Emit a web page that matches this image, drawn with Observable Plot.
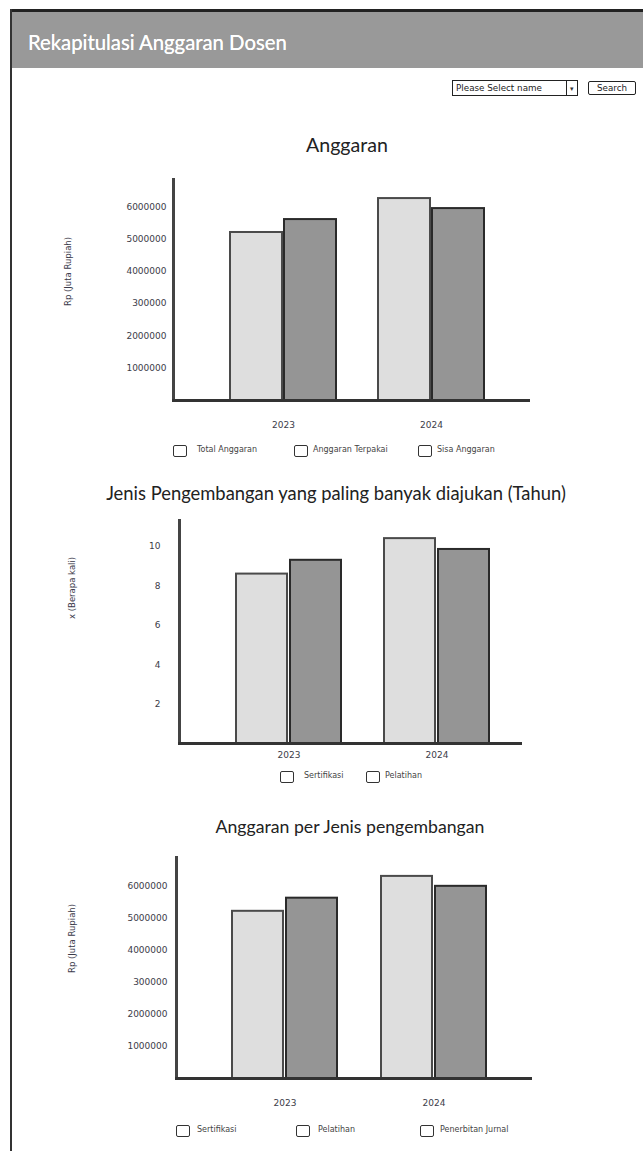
<!DOCTYPE html>
<html><head><meta charset="utf-8">
<script src="https://cdn.jsdelivr.net/npm/d3@7"></script>
<script src="https://cdn.jsdelivr.net/npm/@observablehq/plot@0.6"></script>
<style>
body{margin:0;background:#fff;}
#page{position:relative;width:643px;height:1151px;overflow:hidden;background:#fff;font-family:Lato,"Open Sans",sans-serif;}
.abs{position:absolute;white-space:nowrap;line-height:1;}
.box{position:absolute;width:12px;height:10px;border:1.6px solid #333;border-radius:2px;background:#fff;}
.leg{position:absolute;white-space:nowrap;font-family:"DejaVu Sans",sans-serif;font-size:8px;color:#444;line-height:1;}
</style></head><body><div id="page"></div>
<script>
// ---- data ----
const years = ["2023", "2024"];
const anggaranTotal = [5200000, 6250000];
const anggaranTerpakai = [5600000, 5940000];
const jenisSertifikasi = [8.6, 10.4];
const jenisPelatihan = [9.3, 9.85];
const perJenisSertifikasi = [5220000, 6310000];
const perJenisPelatihan = [5630000, 6000000];
const rupiahTicks = [1000000, 2000000, 3000000, 4000000, 5000000, 6000000];
const rupiahTickLabels = ["1000000", "2000000", "300000", "4000000", "5000000", "6000000"];
const kaliTicks = [2, 4, 6, 8, 10];
const legend1 = ["Total Anggaran", "Anggaran Terpakai", "Sisa Anggaran"];
const legend2 = ["Sertifikasi", "Pelatihan"];
const legend3 = ["Sertifikasi", "Pelatihan", "Penerbitan Jurnal"];
const titles = ["Anggaran", "Jenis Pengembangan yang paling banyak diajukan (Tahun)", "Anggaran per Jenis pengembangan"];
const yLabels = ["Rp (Juta Rupiah)", "x (Berapa kali)", "Rp (Juta Rupiah)"];

const page = document.getElementById("page");

function addDiv(cls, css, text) {
  const d = document.createElement("div");
  d.className = cls;
  Object.assign(d.style, css);
  if (text != null) d.textContent = text;
  page.appendChild(d);
  return d;
}
function fitWidth(el, w) {
  const cur = el.getBoundingClientRect().width;
  const fs = parseFloat(getComputedStyle(el).fontSize);
  el.style.fontSize = (fs * w / cur) + "px";
}
function placeCenter(el, cx, cy) {
  const r = el.getBoundingClientRect();
  el.style.left = (cx - r.width / 2) + "px";
  el.style.top = (cy - r.height / 2) + "px";
}

// ---- page frame & header ----
addDiv("abs", {left: "12px", top: "12px", width: "631px", height: "56px", background: "#999"});
addDiv("abs", {left: "10px", top: "9px", width: "633px", height: "3px", background: "#222"});
addDiv("abs", {left: "10px", top: "9px", width: "2px", height: "1142px", background: "#333"});
const head = addDiv("abs", {color: "#fff", fontSize: "22px", fontFamily: "Lato, sans-serif", textShadow: "0 0 0.4px #fff"}, "Rekapitulasi Anggaran Dosen");
fitWidth(head, 259);
{ const r = head.getBoundingClientRect(); head.style.left = "28px"; head.style.top = (42 - r.height / 2) + "px"; }

// select + button
addDiv("abs", {left: "452px", top: "80px", width: "113px", height: "14px", border: "1px solid #222", background: "#fff"});
const selTxt = addDiv("abs", {fontFamily: "DejaVu Sans, sans-serif", fontSize: "7.5px", color: "#222"}, "Please Select name");
fitWidth(selTxt, 86);
placeCenter(selTxt, 499, 88);
addDiv("abs", {left: "566px", top: "80px", width: "10px", height: "14px", border: "1px solid #222", background: "#fff"});
const arr = addDiv("abs", {fontSize: "7px", color: "#333"}, "▾");
placeCenter(arr, 571.5, 88);
addDiv("abs", {left: "588px", top: "81px", width: "46px", height: "12px", border: "1.6px solid #222", borderRadius: "2px", background: "#fff"});
const btn = addDiv("abs", {fontFamily: "DejaVu Sans, sans-serif", fontSize: "8px", color: "#222"}, "Search");
fitWidth(btn, 30);
placeCenter(btn, 612, 88);

// ---- chart ----
function drawChart(cfg) {
  const rows = years.map((year, i) => ({year, a: cfg.a[i], b: cfg.b[i]}));
  const svgTop = cfg.axisTop - 10;
  const mb = 45;
  const height = cfg.axisBottom + mb - svgTop;
  const fmt = cfg.labels ? (d => cfg.labels[cfg.ticks.indexOf(d)]) : (d => String(d));
  const plot = Plot.plot({
    width: 643, height,
    marginLeft: cfg.axisX, marginRight: 643 - cfg.axisRight, marginTop: 10, marginBottom: mb,
    style: {fontFamily: "DejaVu Sans, sans-serif", fontSize: "9px", color: "#3c3c48", background: "transparent", overflow: "visible"},
    x: {domain: years, paddingInner: cfg.pi, paddingOuter: cfg.po, align: cfg.align, label: null},
    y: {domain: [0, cfg.yMax], label: null},
    marks: [
      Plot.barY(rows, {x: "year", y: "a", fill: "#dedede", stroke: "#4a4a4a", strokeWidth: 2, insetRight: 54}),
      Plot.barY(rows, {x: "year", y: "b", fill: "#959595", stroke: "#2a2a2a", strokeWidth: 2, insetLeft: 54}),
      Plot.axisY({ticks: cfg.ticks, tickFormat: fmt, tickSize: 0, tickPadding: cfg.tickPadding, label: null}),
      Plot.axisX({tickSize: 0, tickPadding: cfg.xPad, label: null}),
      Plot.frame({anchor: "left", stroke: "#444", strokeWidth: 3}),
      Plot.frame({anchor: "bottom", stroke: "#333", strokeWidth: 3}),
      Plot.text([cfg.yLabel], {text: d => d, frameAnchor: "left", rotate: -90, dx: -(cfg.axisX - cfg.labelX), dy: cfg.labelDy, fontSize: 8.5, fill: "#3a3a4a"})
    ]
  });
  plot.style.position = "absolute";
  plot.style.left = "0px";
  plot.style.top = svgTop + "px";
  page.appendChild(plot);

  const t = addDiv("abs", {fontSize: "15px", color: "#222", fontFamily: "Lato, sans-serif"}, cfg.title);
  fitWidth(t, cfg.titleW);
  placeCenter(t, cfg.titleX, cfg.titleY);

  cfg.legend.forEach((name, i) => {
    const [bx, tx] = cfg.legendX[i];
    addDiv("box", {left: bx + "px", top: (cfg.legendY - 6) + "px"});
    const l = addDiv("leg", {}, name);
    const r = l.getBoundingClientRect();
    l.style.left = tx + "px";
    l.style.top = (cfg.legendY - r.height / 2 - 1) + "px";
  });
}

drawChart({
  a: anggaranTotal, b: anggaranTerpakai, ticks: rupiahTicks, labels: rupiahTickLabels,
  axisX: 173, axisRight: 528, axisTop: 179, axisBottom: 400, yMax: 6840000,
  pi: 0.2838, po: 0.3412, align: 0.564, tickPadding: 7, xPad: 21,
  yLabel: yLabels[0], labelX: 68, labelDy: 16,
  title: titles[0], titleX: 347, titleY: 145, titleW: 82,
  legend: legend1, legendY: 451, legendX: [[173, 197], [294, 313], [418, 437]]
});
drawChart({
  a: jenisSertifikasi, b: jenisPelatihan, ticks: kaliTicks, labels: null,
  axisX: 179, axisRight: 520, axisTop: 520, axisBottom: 743, yMax: 11.32,
  pi: 0.2886, po: 0.2886, align: 0.651, tickPadding: 19, xPad: 8.5,
  yLabel: yLabels[1], labelX: 72, labelDy: -13,
  title: titles[1], titleX: 336, titleY: 493, titleW: 460,
  legend: legend2, legendY: 777, legendX: [[280, 304], [366, 385]]
});
drawChart({
  a: perJenisSertifikasi, b: perJenisPelatihan, ticks: rupiahTicks, labels: rupiahTickLabels,
  axisX: 176, axisRight: 530, axisTop: 857, axisBottom: 1078, yMax: 6900000,
  pi: 0.2933, po: 0.3267, align: 0.561, tickPadding: 9, xPad: 21.5,
  yLabel: yLabels[2], labelX: 72, labelDy: 5,
  title: titles[2], titleX: 350, titleY: 827, titleW: 269,
  legend: legend3, legendY: 1131, legendX: [[176, 197], [296, 318], [420, 440]]
});
</script></body></html>
